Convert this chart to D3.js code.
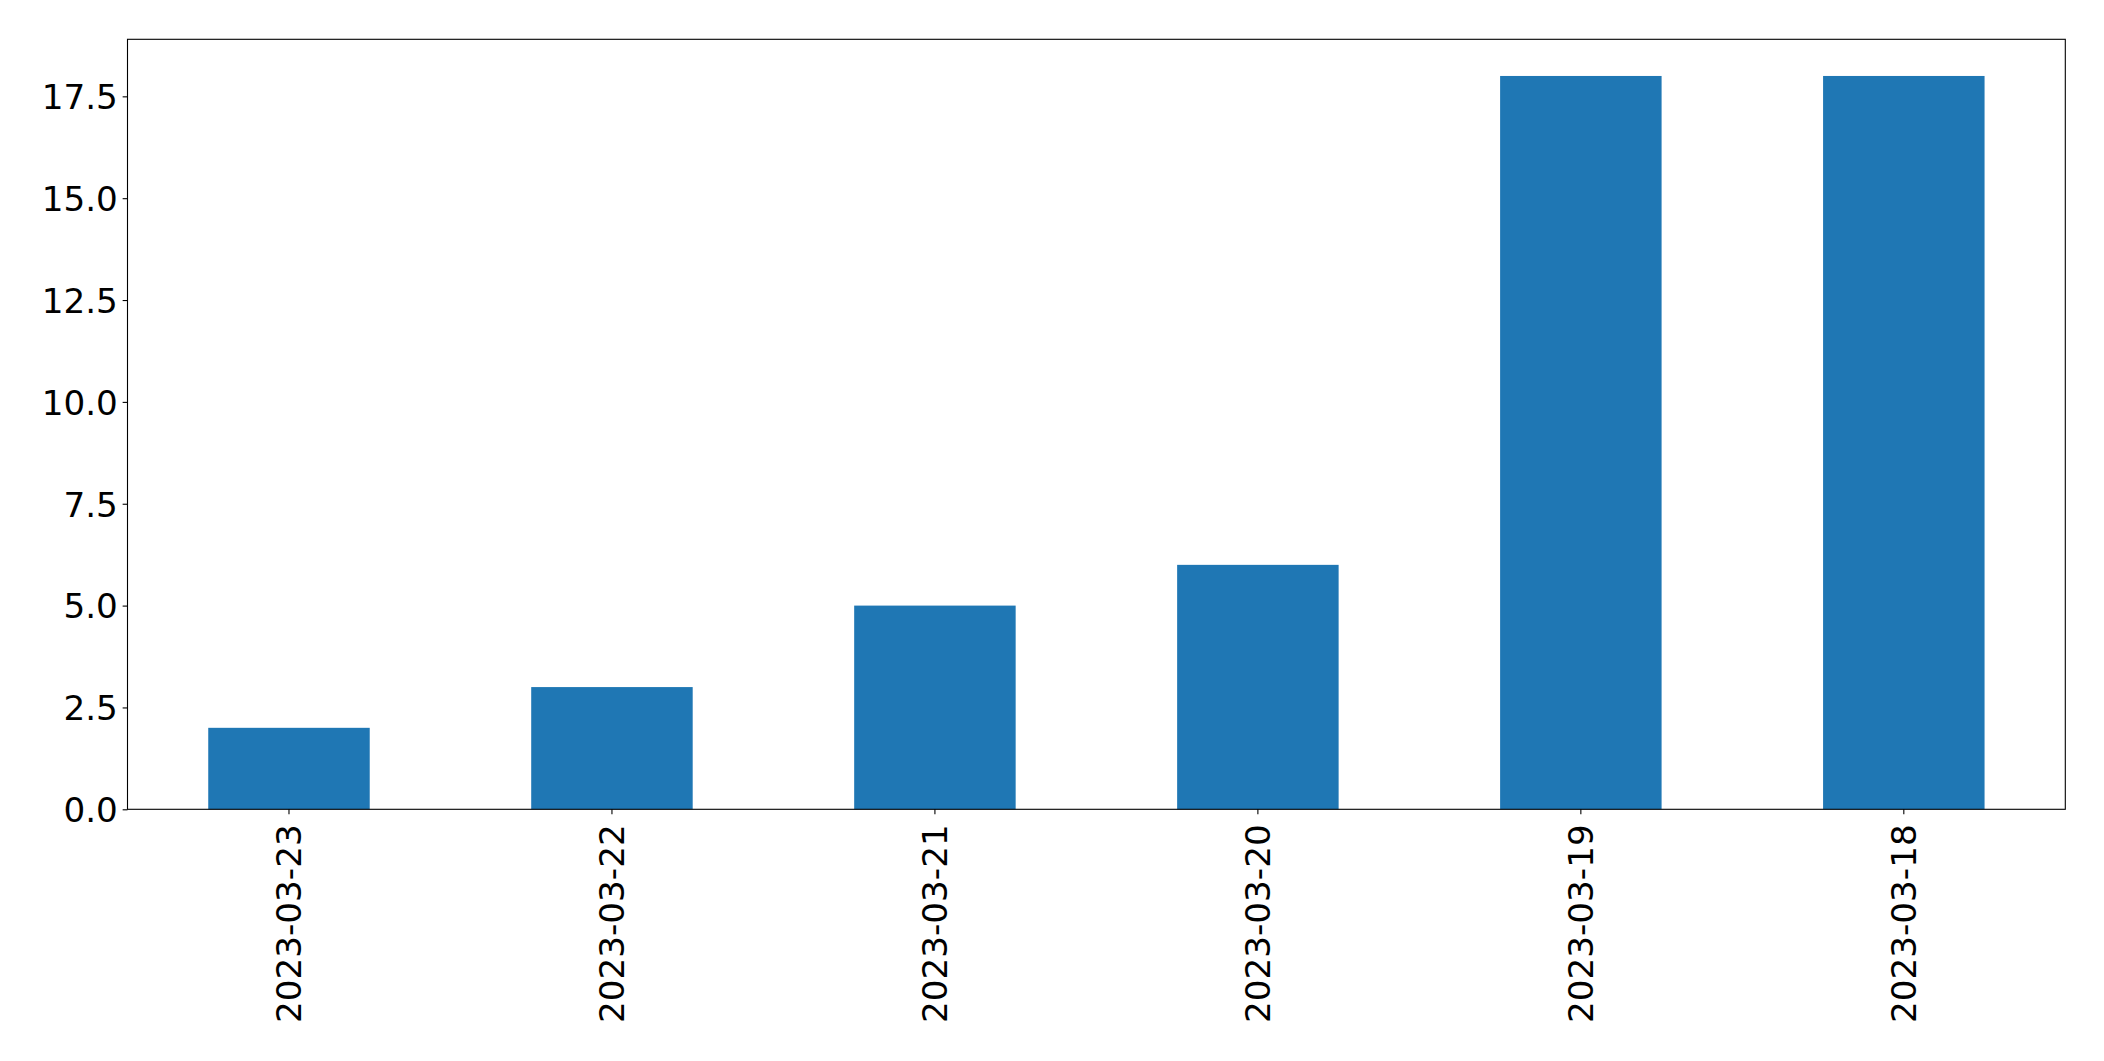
<!DOCTYPE html>
<html><head><meta charset="utf-8">
<script src="https://cdn.jsdelivr.net/npm/d3@7"></script>
<style>body{margin:0;background:#fff;} svg{display:block;}</style>
</head><body>
<script>
const categories = ["2023-03-23","2023-03-22","2023-03-21","2023-03-20","2023-03-19","2023-03-18"];
const values = [2,3,5,6,18,18];
const yTicks = [0,2.5,5,7.5,10,12.5,15,17.5];

const W = 2104, H = 1061;
const m = {left:127.5, right:2065.3, top:39.3, bottom:809.3};
const fs = 34.2;
const tick = 4.86;
const svg = d3.select("body").append("svg").attr("width",W).attr("height",H);

const x = d3.scaleBand().domain(categories).range([m.left,m.right]).paddingInner(0.5).paddingOuter(0.25);
const y = d3.scaleLinear().domain([0, d3.max(values)*1.05]).range([m.bottom,m.top]);

svg.append("g").selectAll("rect").data(values).join("rect")
  .attr("x",(d,i)=>x(categories[i]))
  .attr("width",x.bandwidth())
  .attr("y",d=>y(d))
  .attr("height",d=>y(0)-y(d))
  .attr("fill","#1f77b4");

const yAxis = svg.append("g").attr("transform",`translate(${m.left},0)`)
  .call(d3.axisLeft(y).tickValues(yTicks).tickFormat(d3.format(".1f")).tickSizeOuter(0).tickSize(tick).tickPadding(tick));
yAxis.select(".domain").remove();
yAxis.selectAll("line").attr("stroke","#000").attr("stroke-width",1.1);
yAxis.selectAll("text").attr("font-family","DejaVu Sans").attr("font-size",fs).attr("fill","#000").attr("dy","0.36em");

const xAxis = svg.append("g").attr("transform",`translate(0,${m.bottom})`)
  .call(d3.axisBottom(x).tickSizeOuter(0).tickSize(tick).tickPadding(tick));
xAxis.select(".domain").remove();
xAxis.selectAll("line").attr("stroke","#000").attr("stroke-width",1.1);
xAxis.selectAll("text")
  .attr("font-family","DejaVu Sans").attr("font-size",fs).attr("fill","#000")
  .attr("transform","rotate(-90)")
  .attr("text-anchor","end")
  .attr("x",-15).attr("y",0).attr("dy","0.36em");

svg.append("rect").attr("x",m.left).attr("y",m.top)
  .attr("width",m.right-m.left).attr("height",m.bottom-m.top)
  .attr("fill","none").attr("stroke","#000").attr("stroke-width",1.1);
</script>
</body></html>
